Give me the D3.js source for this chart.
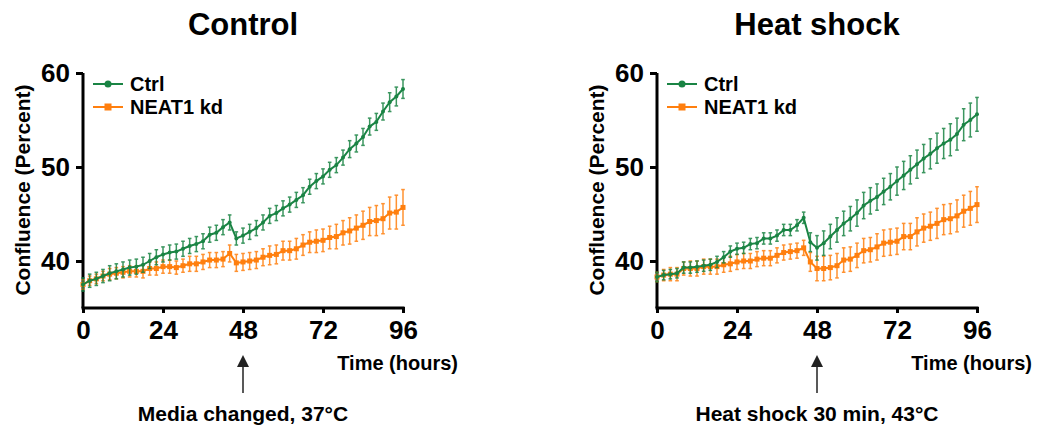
<!DOCTYPE html>
<html><head><meta charset="utf-8">
<script src="https://cdn.jsdelivr.net/npm/d3@7/dist/d3.min.js"></script>
<style>
html,body{margin:0;padding:0;background:#fff;}
svg text{font-family:"Liberation Sans",Arial,Helvetica,sans-serif;font-weight:bold;fill:#000;}
</style></head>
<body><svg id="chart" width="1038" height="432"></svg>
<script>
const hours = [0,2,4,6,8,10,12,14,16,18,20,22,24,26,28,30,32,34,36,38,40,42,44,46,48,50,52,54,56,58,60,62,64,66,68,70,72,74,76,78,80,82,84,86,88,90,92,94,96];
const xTicks = [0,24,48,72,96];
const yTicks = [40,50,60];
const seriesNames = ["Ctrl","NEAT1 kd"];
const panelTitles = ["Control","Heat shock"];
const annotations = ["Media changed, 37°C","Heat shock 30 min, 43°C"];

const controlCtrl = [37.5,37.9,38.1,38.4,38.7,38.9,39.1,39.3,39.4,39.6,
40.0,40.4,40.7,40.9,41.0,41.3,41.6,41.8,42.1,42.8,
43.0,43.6,44.1,42.4,42.7,43.1,43.5,44.1,44.8,45.1,
45.6,46.0,46.5,47.0,47.9,48.5,49.0,49.7,50.2,51.0,
51.9,52.5,53.2,54.3,54.8,55.9,56.9,57.5,58.3];
const controlCtrlErr = [0.7,0.7,0.7,0.7,0.8,0.8,0.8,0.8,0.8,0.8,
0.8,0.8,0.8,0.8,0.8,0.8,0.8,0.8,0.8,0.8,
0.8,0.8,0.8,0.7,0.8,0.8,0.8,0.8,0.8,0.8,
0.8,0.8,0.8,0.8,0.8,0.8,0.8,0.8,0.8,0.8,
0.9,0.9,0.9,0.9,0.9,0.9,1.0,1.0,1.0];
const controlKd = [37.5,37.9,38.1,38.4,38.6,38.7,38.8,38.9,38.9,38.9,
39.2,39.2,39.4,39.4,39.3,39.5,39.7,39.7,39.9,40.1,
40.1,40.2,40.8,39.8,39.9,40.0,40.1,40.4,40.6,40.7,
41.1,41.1,41.3,41.7,42.0,42.1,42.2,42.5,42.6,43.0,
43.2,43.5,43.8,44.2,44.3,44.5,45.1,45.2,45.7];
const controlKdErr = [0.5,0.5,0.5,0.5,0.6,0.6,0.6,0.6,0.6,0.7,
0.7,0.7,0.7,0.7,0.7,0.7,0.8,0.8,0.8,0.8,
0.8,0.8,0.9,0.9,0.9,0.9,0.9,0.9,1.0,1.0,
1.0,1.0,1.1,1.1,1.1,1.2,1.2,1.2,1.3,1.3,
1.4,1.4,1.5,1.5,1.6,1.6,1.7,1.8,1.9];
const heatCtrl = [38.3,38.5,38.6,38.7,39.3,39.3,39.4,39.5,39.6,39.9,
40.4,41.0,41.3,41.4,41.8,41.9,42.4,42.4,42.7,43.3,
43.3,43.8,44.6,42.0,41.4,41.9,42.6,43.3,44.0,44.5,
45.1,45.9,46.4,46.8,47.4,47.9,48.5,49.1,49.7,50.3,
50.9,51.4,52.0,52.5,52.9,53.5,54.5,55.0,55.6];
const heatCtrlErr = [0.5,0.5,0.5,0.5,0.6,0.6,0.6,0.6,0.6,0.6,
0.6,0.6,0.6,0.6,0.6,0.6,0.6,0.6,0.6,0.6,
0.6,0.6,0.6,1.0,1.3,1.3,1.3,1.3,1.3,1.3,
1.4,1.4,1.4,1.4,1.4,1.4,1.5,1.5,1.5,1.5,
1.5,1.6,1.6,1.6,1.7,1.7,1.7,1.8,1.8];
const heatKd = [38.3,38.5,38.6,38.6,39.2,39.2,39.2,39.4,39.4,39.4,
39.6,39.7,39.9,40.0,40.0,40.2,40.3,40.3,40.6,40.9,
41.0,41.1,41.4,39.9,39.2,39.2,39.3,39.5,40.1,40.2,
40.6,41.1,41.2,41.5,41.9,42.0,42.1,42.6,42.6,43.1,
43.5,43.7,44.0,44.4,44.5,44.8,45.3,45.6,46.0];
const heatKdErr = [0.5,0.6,0.7,0.7,0.7,0.8,0.8,0.8,0.8,0.8,
0.8,0.8,0.8,0.8,0.8,0.8,0.8,0.8,0.8,0.8,
0.8,0.8,0.8,1.0,1.3,1.3,1.3,1.3,1.3,1.3,
1.3,1.3,1.3,1.4,1.4,1.4,1.4,1.4,1.4,1.5,
1.5,1.5,1.6,1.6,1.6,1.7,1.7,1.8,1.9];

const GREEN = "#1a8444", ORANGE = "#ff7f0e";
const svg = d3.select("#chart");

function panel(x0, x1, title, annot, ctrl, ctrlErr, kd, kdErr) {
  const x = d3.scaleLinear().domain([0,96]).range([x0, x1]);
  const y = d3.scaleLinear().domain([35,60]).range([308, 73]);
  const g = svg.append("g");

  g.append("text").attr("x", x(48)).attr("y", 35).attr("text-anchor","middle")
    .style("font-size","31px").text(title);

  const yAx = g.append("g").attr("transform",`translate(${x0},0)`)
    .call(d3.axisLeft(y).tickValues(yTicks).tickSize(7).tickPadding(6).tickFormat(d3.format("d")));
  yAx.select(".domain").attr("d", `M0,${y(35)}V${y(60)}`).attr("stroke","#000").attr("stroke-width",3);
  yAx.selectAll(".tick line").attr("stroke","#000").attr("stroke-width",3);
  yAx.selectAll(".tick text").style("font-size","26px").style("font-family","Liberation Sans, Arial, sans-serif").style("font-weight","bold");

  const xAx = g.append("g").attr("transform",`translate(0,${y(35)})`)
    .call(d3.axisBottom(x).tickValues(xTicks).tickSize(5).tickPadding(8).tickFormat(d3.format("d")));
  xAx.select(".domain").attr("d", `M${x0-1.5},0H${x1+1.5}`).attr("stroke","#000").attr("stroke-width",3);
  xAx.selectAll(".tick line").attr("stroke","#000").attr("stroke-width",3).attr("y1",-1);
  xAx.selectAll(".tick text").style("font-size","26px").style("font-family","Liberation Sans, Arial, sans-serif").style("font-weight","bold");

  g.append("text").attr("transform",`translate(${x0-53},190) rotate(-90)`).attr("text-anchor","middle")
    .style("font-size","21px").text("Confluence (Percent)");
  g.append("text").attr("x", x1+55).attr("y", 370).attr("text-anchor","end")
    .style("font-size","20px").text("Time (hours)");

  g.append("line").attr("x1",x(48)).attr("x2",x(48)).attr("y1",393).attr("y2",364)
    .attr("stroke","#222").attr("stroke-width",1.5);
  g.append("path").attr("d",`M${x(48)},355L${x(48)-6},367L${x(48)+6},367Z`).attr("fill","#222");
  g.append("text").attr("x", x(48)).attr("y", 421).attr("text-anchor","middle")
    .style("font-size","21px").text(annot);

  const series = [
    {vals: kd, err: kdErr, color: ORANGE, shape: "square"},
    {vals: ctrl, err: ctrlErr, color: GREEN, shape: "circle"}
  ];
  series.forEach(s => {
    const pts = hours.map((h,i)=>({h, v:s.vals[i], e:s.err[i]}));
    const eb = g.append("g").attr("stroke", s.color).attr("stroke-width",1.5).attr("opacity",0.85);
    pts.forEach(p => {
      const xx = x(p.h), ya = y(p.v + p.e), yb = y(p.v - p.e);
      eb.append("line").attr("x1",xx).attr("x2",xx).attr("y1",ya).attr("y2",yb);
      eb.append("line").attr("x1",xx-1.8).attr("x2",xx+1.8).attr("y1",ya).attr("y2",ya);
      eb.append("line").attr("x1",xx-1.8).attr("x2",xx+1.8).attr("y1",yb).attr("y2",yb);
    });
    g.append("path").datum(pts).attr("fill","none").attr("stroke",s.color).attr("stroke-width",2)
      .attr("d", d3.line().x(d=>x(d.h)).y(d=>y(d.v)));
    if (s.shape === "circle") {
      g.selectAll(null).data(pts).enter().append("circle")
        .attr("cx",d=>x(d.h)).attr("cy",d=>y(d.v)).attr("r",2).attr("fill",s.color);
    } else {
      g.selectAll(null).data(pts).enter().append("rect")
        .attr("x",d=>x(d.h)-2.5).attr("y",d=>y(d.v)-2.5).attr("width",5).attr("height",5).attr("fill",s.color);
    }
  });

  const lg = g.append("g").attr("transform",`translate(${x0+10},0)`);
  lg.append("line").attr("x1",0).attr("x2",30).attr("y1",84).attr("y2",84).attr("stroke",GREEN).attr("stroke-width",2);
  lg.append("circle").attr("cx",15).attr("cy",84).attr("r",3.5).attr("fill",GREEN);
  lg.append("text").attr("x",37).attr("y",91).style("font-size","20px").text(seriesNames[0]);
  lg.append("line").attr("x1",0).attr("x2",30).attr("y1",107).attr("y2",107).attr("stroke",ORANGE).attr("stroke-width",2);
  lg.append("rect").attr("x",11.5).attr("y",103.5).attr("width",7).attr("height",7).attr("fill",ORANGE);
  lg.append("text").attr("x",37).attr("y",114).style("font-size","20px").text(seriesNames[1]);
}

panel(83, 403, panelTitles[0], annotations[0], controlCtrl, controlCtrlErr, controlKd, controlKdErr);
panel(657, 977, panelTitles[1], annotations[1], heatCtrl, heatCtrlErr, heatKd, heatKdErr);
</script></body></html>
